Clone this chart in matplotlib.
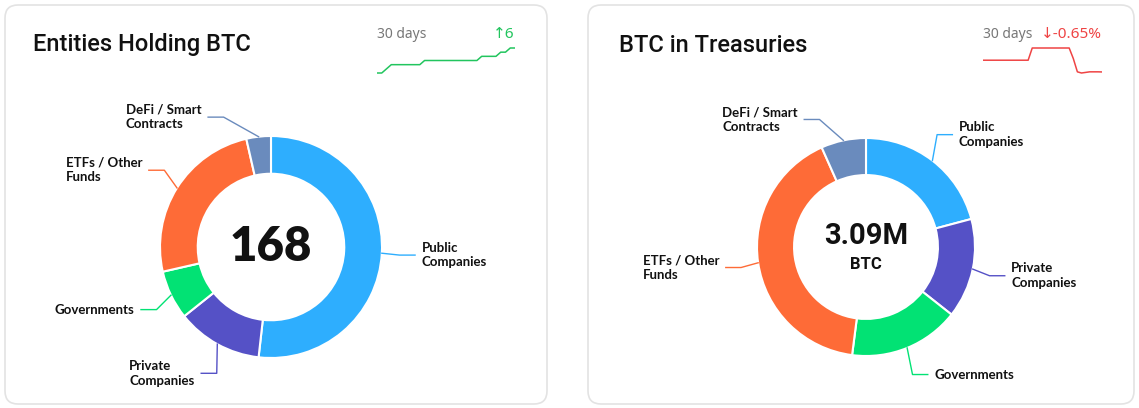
import numpy as np
import matplotlib.pyplot as plt
from matplotlib.patches import FancyBboxPatch

# =====================================================
# Data
# =====================================================

categories = ["Public\nCompanies", "Private\nCompanies", "Governments",
              "ETFs / Other\nFunds", "DeFi / Smart\nContracts"]
colors = ["#2eaefe", "#5551c6", "#02e274", "#fe6b37", "#6a8bbd"]

entities = [87, 21, 12, 42, 6]                      # count of entities
btc_millions = [0.645, 0.457, 0.507, 1.277, 0.206]  # BTC held, millions

# 30 day history
entities_30d = [162, 162, 163, 164, 164, 164, 164, 164, 164, 164,
                165, 165, 165, 165, 165, 165, 165, 165, 165, 165,
                165, 165, 166, 166, 166, 166, 167, 167, 168, 168]
btc_30d = [3.110, 3.110, 3.110, 3.110, 3.110, 3.110, 3.110, 3.110, 3.110, 3.110,
           3.110, 3.110, 3.131, 3.131, 3.131, 3.131, 3.131, 3.131, 3.131, 3.131,
           3.131, 3.131, 3.113, 3.090, 3.088, 3.089, 3.090, 3.090, 3.090, 3.0898]

W, H = 1139, 408
DPI = 100

TITLE_FONT = ["Roboto", "DejaVu Sans"]
SMALL_FONT = ["Noto Sans", "DejaVu Sans"]
LABEL_FONT = ["Lato", "DejaVu Sans"]

fig = plt.figure(figsize=(W / DPI, H / DPI), dpi=DPI)
fig.patch.set_facecolor("white")

# background axes in pixel coordinates (y downwards)
bg = fig.add_axes([0, 0, 1, 1])
bg.set_xlim(0, W)
bg.set_ylim(H, 0)
bg.axis("off")


def px_axes(x0, y0, x1, y1):
    return fig.add_axes([x0 / W, 1 - y1 / H, (x1 - x0) / W, (y1 - y0) / H])


# =====================================================
# Cards
# =====================================================

for x0, x1 in [(5, 547), (588, 1134)]:
    card = FancyBboxPatch((x0, 5), x1 - x0, 399,
                          boxstyle="round,pad=0,rounding_size=13",
                          facecolor="white", edgecolor="#e3e3e3", linewidth=1.2)
    bg.add_patch(card)

bg.text(33, 45, "Entities Holding BTC", fontsize=17, family=TITLE_FONT,
        weight="medium", color="#111111", va="center", ha="left")
bg.text(619, 45, "BTC in Treasuries", fontsize=17, family=TITLE_FONT,
        weight="medium", color="#111111", va="center", ha="left")


# =====================================================
# Sparklines
# =====================================================

def sparkline(values, x0, x1, y0, y1, color, change_text, label_x):
    ax = px_axes(x0, y0, x1, y1)
    ax.plot(range(len(values)), values, color=color, linewidth=1.1)
    ax.set_xlim(0, len(values) - 1)
    lo, hi = min(values), max(values)
    pad = (hi - lo) * 0.04
    ax.set_ylim(lo - pad, hi + pad)
    ax.axis("off")
    bg.text(label_x, 35, "30 days", fontsize=10, family=SMALL_FONT,
            color="#777777", va="center", ha="left")
    bg.text(x1, 35, change_text, fontsize=11, family=SMALL_FONT,
            color=color, va="center", ha="right")


sparkline(entities_30d, 377, 515, 47, 74, "#22c55e",
          "\u2191" + str(entities_30d[-1] - entities_30d[0]), 377)
chg = (btc_30d[-1] / btc_30d[0] - 1) * 100
sparkline(btc_30d, 983, 1102, 47, 74, "#ef4444",
          "\u2193" + f"{chg:.2f}%", 983)


# =====================================================
# Donuts
# =====================================================

def donut(values, cx, cy, R):
    a, b = 1.75, 1.5
    ax = px_axes(cx - a * R, cy - b * R, cx + a * R, cy + b * R)
    ax.pie(values, colors=colors, startangle=90, counterclock=False,
           radius=1.0, wedgeprops=dict(width=0.34, edgecolor="white",
                                       linewidth=1.5))
    ax.set_xlim(-a, a)
    ax.set_ylim(-b, b)
    ax.set_aspect("auto")
    ax.axis("off")

    total = sum(values)
    start = 0.0
    rl = 1.3
    for val, name, col in zip(values, categories, colors):
        mid = (start + val / 2) / total * 2 * np.pi
        start += val
        side = 1 if np.sin(mid) >= 0 else -1
        yl = np.clip(rl * np.cos(mid), -1.17, 1.17)
        xl = side * np.sqrt(max(rl ** 2 - yl ** 2, 0))
        ex, ey = np.sin(mid), np.cos(mid)
        ax.plot([ex, xl - side * 0.14, xl], [ey, yl, yl], color=col,
                linewidth=1.0, clip_on=False)
        ax.text(xl + side * 0.06, yl, name, fontsize=9.5, family=LABEL_FONT,
                weight="bold", color="#111111", va="center",
                ha="left" if side > 0 else "right", multialignment="left",
                linespacing=1.25)
    return ax


ax1 = donut(entities, 271, 247, 111)
ax1.text(0, 0, str(sum(entities)), fontsize=34, family=LABEL_FONT,
         weight="heavy", color="#111111", ha="center", va="center")

ax2 = donut(btc_millions, 866, 247, 109)
ax2.text(0, 0.1, f"{sum(btc_millions):.2f}M", fontsize=21, family=TITLE_FONT,
         weight="bold", color="#111111", ha="center", va="center")
ax2.text(0, -0.16, "BTC", fontsize=12, family=TITLE_FONT,
         weight="bold", color="#111111", ha="center", va="center")

fig.savefig("out.png", dpi=DPI)
